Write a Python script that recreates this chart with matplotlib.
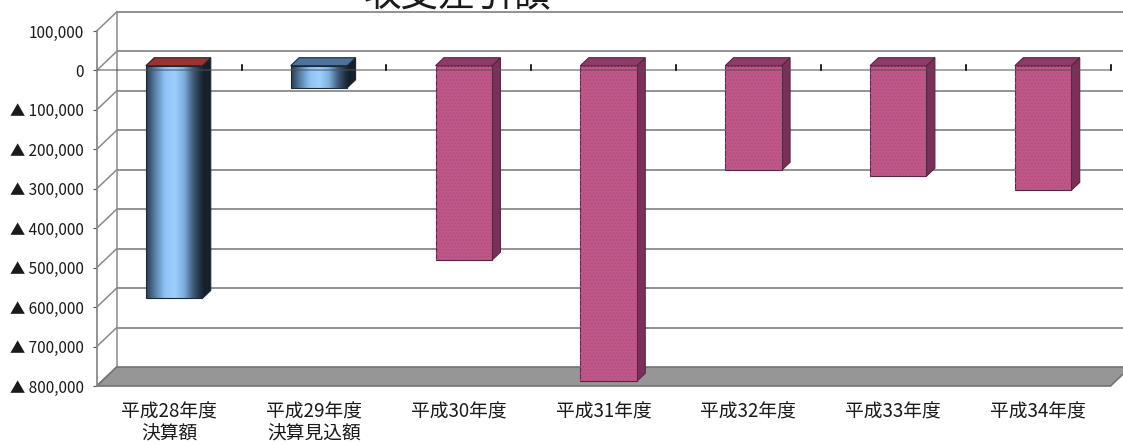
import matplotlib.pyplot as plt
import numpy as np
from matplotlib.colors import LinearSegmentedColormap
from matplotlib.patches import Polygon

plt.rcParams['font.family'] = ['Noto Sans CJK JP', 'DejaVu Sans']

# data
title = '収支差引額'
categories = ['平成28年度\n決算額', '平成29年度\n決算見込額', '平成30年度', '平成31年度',
              '平成32年度', '平成33年度', '平成34年度']
values = [-590000, -56000, -493000, -800000, -265000, -280000, -316000]
n_actual = 2  # first two bars are 決算 (blue), the rest are projections (pink)
yticks = [100000, 0, -100000, -200000, -300000, -400000, -500000, -600000, -700000, -800000]
ytick_labels = ['100,000', '0', '▲ 100,000', '▲ 200,000', '▲ 300,000', '▲ 400,000',
                '▲ 500,000', '▲ 600,000', '▲ 700,000', '▲ 800,000']

W, H = 1123, 444
fig = plt.figure(figsize=(W / 100, H / 100), dpi=100)
ax_l, ax_r, ax_t, ax_b = 96.7, 1110.5, 31, 386
ax = fig.add_axes([ax_l / W, (H - ax_b) / H, (ax_r - ax_l) / W, (ax_b - ax_t) / H])
n = len(values)
ymin, ymax = yticks[-1], yticks[0]
ax.set_xlim(0, n)
ax.set_ylim(ymin, ymax)

# depth of the 3d box, in data units (20 px right, 19 px up)
DX = 20 / ((ax_r - ax_l) / n)
DY = 19 / ((ax_b - ax_t) / (ymax - ymin))

grid_c = '#8a8a8a'
# back wall gridlines + left wall diagonals
for v in yticks[:-1]:
    ax.plot([DX, n + DX], [v + DY, v + DY], color=grid_c, lw=1.3, zorder=1, clip_on=False)
for v in yticks:
    ax.plot([0, DX], [v, v + DY], color=grid_c, lw=1.1, zorder=1, clip_on=False)
ax.plot([DX, DX], [ymax + DY, ymin + DY], color=grid_c, lw=1.1, zorder=1, clip_on=False)

# floor
floor = Polygon([(0, ymin), (n, ymin), (n + DX, ymin + DY), (DX, ymin + DY)],
                closed=True, facecolor='#969696', edgecolor='#737373', lw=1.2,
                zorder=2, clip_on=False)
ax.add_patch(floor)

# bars
w = 0.39
d0, d1 = 0.25, 0.67
blue_cmap = LinearSegmentedColormap.from_list(
    'cyl', ['#2a3b4e', '#5a83ad', '#8fc3f5', '#9dd0ff', '#7fb0e0', '#3e5a78', '#17222e'])
grad = np.linspace(0, 1, 200).reshape(1, -1)

for i, v in enumerate(values):
    x0 = i + 0.5 - w / 2
    x1 = i + 0.5 + w / 2
    ax0, ay0 = d0 * DX, d0 * DY
    bx0, by0 = d1 * DX, d1 * DY
    front = [(x0 + ax0, v + ay0), (x1 + ax0, v + ay0), (x1 + ax0, ay0), (x0 + ax0, ay0)]
    top = [(x0 + ax0, ay0), (x1 + ax0, ay0), (x1 + bx0, by0), (x0 + bx0, by0)]
    side = [(x1 + ax0, v + ay0), (x1 + bx0, v + by0), (x1 + bx0, by0), (x1 + ax0, ay0)]
    if i < n_actual:
        side_c, top_c = '#15202b', ('#9b3430' if i == 0 else '#4d739c')
        edge_c = '#1c2a38'
        ax.imshow(grad, extent=[x0 + ax0, x1 + ax0, v + ay0, ay0], aspect='auto',
                  cmap=blue_cmap, zorder=3, interpolation='bilinear')
        ax.add_patch(Polygon(front, closed=True, fill=False, edgecolor=edge_c, lw=0.8, zorder=3.1))
    else:
        side_c, top_c, edge_c = '#7b3059', '#8d3c69', '#5a2443'
        ax.add_patch(Polygon(front, closed=True, facecolor='#c0588a', edgecolor=edge_c,
                             lw=0.8, zorder=3.1))
        # faint dotted texture
        ax.add_patch(Polygon(front, closed=True, fill=False, edgecolor='#b24f80', lw=0,
                             zorder=3.15, hatch='.....'))
    ax.add_patch(Polygon(side, closed=True, facecolor=side_c, edgecolor=edge_c, lw=0.8, zorder=3))
    ax.add_patch(Polygon(top, closed=True, facecolor=top_c, edgecolor=edge_c, lw=0.8, zorder=3))

# front zero axis with category ticks
ax.plot([0, n], [0, 0], color='#505050', lw=1.2, alpha=0.6, zorder=4)
tick_h = 5 / ((ax_b - ax_t) / (ymax - ymin))
for k in range(1, n + 1):
    ax.plot([k, k], [0, tick_h], color='black', lw=1.2, zorder=4, clip_on=False)

ax.set_xlim(0, n)
ax.set_ylim(ymin, ymax)

# axes styling
for s in ['top', 'right', 'bottom']:
    ax.spines[s].set_visible(False)
ax.spines['left'].set_color(grid_c)
ax.spines['left'].set_linewidth(1.3)
ax.set_yticks(yticks)
ax.set_yticklabels(ytick_labels, fontsize=11, color='#1a1a1a')
ax.tick_params(axis='y', length=3, color='#555555', pad=6)
ax.set_xticks(np.arange(n) + 0.5)
ax.set_xticklabels(categories, fontsize=13.5, color='#1a1a1a', linespacing=1.1)
ax.tick_params(axis='x', length=0, pad=11)
ax.patch.set_alpha(0)

fig.text(457 / W, 1 - 6.5 / H, title, ha='center', va='baseline', fontsize=27, color='#1a1a1a')

fig.savefig('out.png', dpi=100)
